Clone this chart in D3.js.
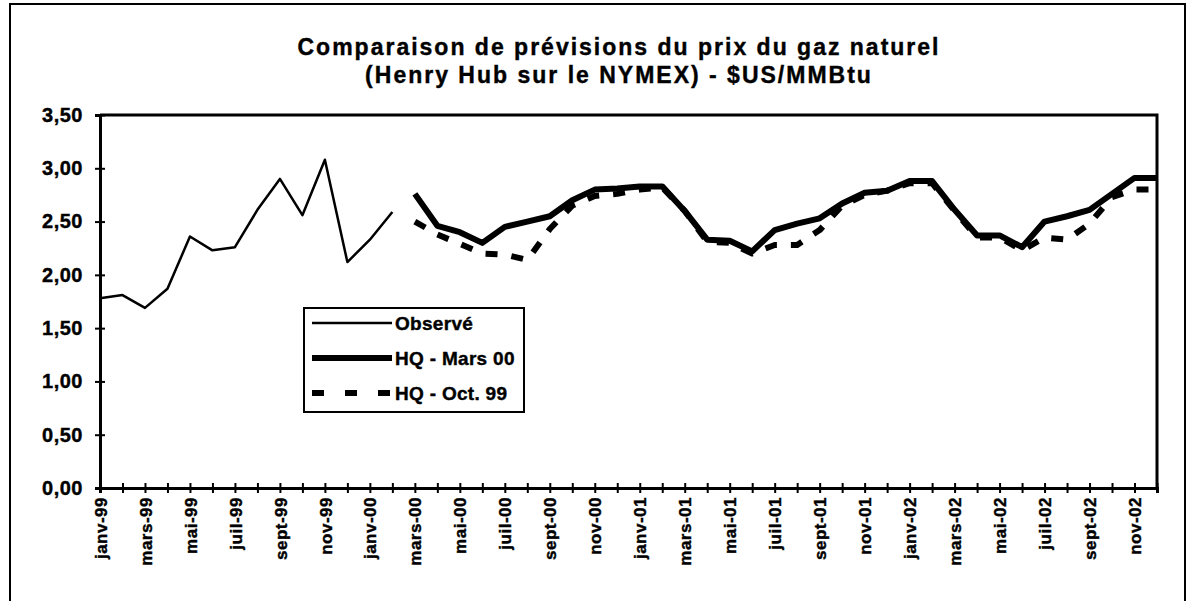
<!DOCTYPE html>
<html>
<head>
<meta charset="utf-8">
<script src="https://cdn.jsdelivr.net/npm/d3@7"></script>
<style>
  body { margin: 0; background: #fff; }
  svg text { font-family: "Liberation Sans", Arial, sans-serif; font-weight: bold; fill: #000; stroke: #000; stroke-width: 0.4px; }
</style>
</head>
<body>
<div id="chart"></div>
<script>
// months, janv-99 .. déc-02
var monthNames = ["janv", "févr", "mars", "avr", "mai", "juin", "juil", "août", "sept", "oct", "nov", "déc"];
var years = ["99", "00", "01", "02"];
var months = [];
years.forEach(function (yy) {
  monthNames.forEach(function (m) { months.push(m + "-" + yy); });
});

// prices, $US/MMBtu
var observed = [1.78, 1.81, 1.69, 1.87, 2.36, 2.23, 2.26, 2.61, 2.90, 2.56, 3.08, 2.12, 2.33, 2.59];
var hqMars00 = [2.76, 2.46, 2.40, 2.30, 2.45, 2.50, 2.55, 2.70, 2.80, 2.81, 2.83, 2.83,
  2.60, 2.33, 2.32, 2.22, 2.42, 2.48, 2.53, 2.67, 2.77, 2.79, 2.88, 2.88,
  2.61, 2.37, 2.37, 2.26, 2.50, 2.55, 2.61, 2.76, 2.91, 2.91];
var hqOct99 = [2.50, 2.38, 2.29, 2.20, 2.19, 2.14, 2.43, 2.65, 2.74, 2.76, 2.80, 2.82,
  2.60, 2.31, 2.30, 2.20, 2.28, 2.28, 2.42, 2.65, 2.75, 2.79, 2.86, 2.86,
  2.60, 2.35, 2.35, 2.23, 2.35, 2.33, 2.48, 2.73, 2.80, 2.80];
var observedStart = "janv-99";
var forecastStart = "mars-00";

var yTicks = [0, 0.5, 1, 1.5, 2, 2.5, 3, 3.5];
var legendLabels = ["Observé", "HQ - Mars 00", "HQ - Oct. 99"];
var title = ["Comparaison de prévisions du prix du gaz naturel", "(Henry Hub sur le NYMEX) - $US/MMBtu"];

var W = 1191, H = 601;
var plot = { left: 100, right: 1157, top: 115, bottom: 488 };

var svg = d3.select("#chart").append("svg")
  .attr("width", W)
  .attr("height", H);

// outer frame
svg.append("rect")
  .attr("x", 10).attr("y", 4)
  .attr("width", 1175).attr("height", 640)
  .attr("fill", "none")
  .attr("stroke", "#000")
  .attr("stroke-width", 2);

// title
svg.append("g").selectAll("text")
  .data(title)
  .enter().append("text")
  .attr("x", 619)
  .attr("y", function (d, i) { return 55 + i * 28; })
  .attr("text-anchor", "middle")
  .attr("font-size", "23px")
  .attr("letter-spacing", "2px")
  .text(function (d) { return d; });

var x = d3.scalePoint().domain(months).range([plot.left, plot.right]);
var y = d3.scaleLinear().domain([0, 3.5]).range([plot.bottom, plot.top]);

// plot area border (top and right)
svg.append("path")
  .attr("d", "M" + plot.left + "," + y(3.5) + "H" + plot.right + "V" + y(0))
  .attr("fill", "none")
  .attr("stroke", "#000")
  .attr("stroke-width", 3);

// y axis
var yAxis = svg.append("g")
  .attr("transform", "translate(" + plot.left + ",0)")
  .call(d3.axisLeft(y)
    .tickValues(yTicks)
    .tickSize(5)
    .tickPadding(12)
    .tickFormat(function (d) { return d3.format(".2f")(d).replace(".", ","); }));
yAxis.select(".domain").attr("stroke-width", 3);
yAxis.selectAll(".tick line").attr("x1", 5).attr("x2", -5).attr("stroke-width", 2);
yAxis.selectAll(".tick text")
  .attr("font-size", "20px")
  .attr("letter-spacing", "0.5px")
  .attr("font-family", null);

// x axis
var xAxis = svg.append("g")
  .attr("transform", "translate(0," + plot.bottom + ")")
  .call(d3.axisBottom(x)
    .tickSize(5)
    .tickFormat(function (d, i) { return i % 2 === 0 ? d : ""; }));
xAxis.select(".domain").attr("stroke-width", 3);
xAxis.selectAll(".tick line").attr("y1", -5).attr("y2", 5).attr("stroke-width", 2);
xAxis.selectAll(".tick text")
  .attr("font-size", "17px")
  .attr("letter-spacing", "0.5px")
  .attr("font-family", null)
  .attr("text-anchor", "end")
  .attr("transform", "rotate(-90)")
  .attr("x", -9)
  .attr("y", 0)
  .attr("dy", "0.36em");

// series
var series = [
  { values: observed, start: observedStart, width: 2.5, dash: null },
  { values: hqOct99, start: forecastStart, width: 6, dash: "12,14" },
  { values: hqMars00, start: forecastStart, width: 6, dash: null }
];
var line = d3.line()
  .x(function (d) { return x(d.m); })
  .y(function (d) { return y(d.v); });

svg.append("g").selectAll("path")
  .data(series)
  .enter().append("path")
  .attr("d", function (s) {
    var i0 = months.indexOf(s.start);
    return line(s.values.map(function (v, i) { return { m: months[i0 + i], v: v }; }));
  })
  .attr("fill", "none")
  .attr("stroke", "#000")
  .attr("stroke-width", function (s) { return s.width; })
  .attr("stroke-dasharray", function (s) { return s.dash; })
  .attr("stroke-linejoin", "round");

// legend
var legend = svg.append("g").attr("transform", "translate(304,308)");
legend.append("rect")
  .attr("width", 220).attr("height", 104)
  .attr("fill", "#fff")
  .attr("stroke", "#000")
  .attr("stroke-width", 2);
var legendStyle = [
  { width: 2.5, dash: null },
  { width: 6, dash: null },
  { width: 6, dash: "12,21" }
];
var row = legend.selectAll("g.row")
  .data(legendLabels)
  .enter().append("g")
  .attr("class", "row")
  .attr("transform", function (d, i) { return "translate(0," + (15 + i * 35) + ")"; });
row.append("line")
  .attr("x1", 8).attr("x2", 88)
  .attr("stroke", "#000")
  .attr("stroke-width", function (d, i) { return legendStyle[i].width; })
  .attr("stroke-dasharray", function (d, i) { return legendStyle[i].dash; });
row.append("text")
  .attr("x", 91)
  .attr("dy", "0.36em")
  .attr("font-size", "19px")
  .attr("letter-spacing", "0.3px")
  .text(function (d) { return d; });
</script>
</body>
</html>
